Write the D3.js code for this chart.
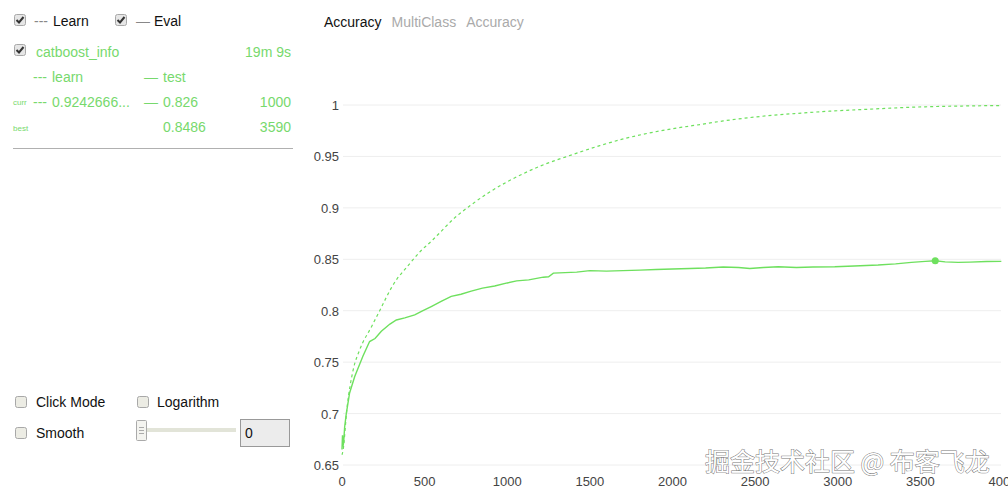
<!DOCTYPE html>
<html><head><meta charset="utf-8">
<script src="https://cdn.jsdelivr.net/npm/d3@7/dist/d3.min.js"></script>
<style>
html,body{margin:0;padding:0;background:#fff;overflow:hidden;}
svg{display:block;font-family:"Liberation Sans",Arial,sans-serif;}
</style></head>
<body>
<svg id="c" width="1008" height="492"></svg>
<script>
// ---- data ----
const xTicks = [0, 500, 1000, 1500, 2000, 2500, 3000, 3500, 4000];
const yTicks = [0.65, 0.7, 0.75, 0.8, 0.85, 0.9, 0.95, 1];
const yTickLabels = ["0.65", "0.7", "0.75", "0.8", "0.85", "0.9", "0.95", "1"];

const learnIter = [0, 6, 30, 67, 107, 177, 228, 298, 333, 369, 411, 470, 550, 593, 680, 774, 880, 996, 1100, 1198, 1399, 1560, 1702, 1850, 2004, 2166, 2307, 2509, 2750, 2952, 3200, 3478, 3750, 3990];
const learnVals = [0.660, 0.664, 0.705, 0.742, 0.762, 0.784, 0.800, 0.822, 0.831, 0.838, 0.846, 0.857, 0.869, 0.876, 0.890, 0.902, 0.914, 0.925, 0.9335, 0.9405, 0.952, 0.9605, 0.967, 0.9725, 0.977, 0.981, 0.9845, 0.9885, 0.9918, 0.994, 0.996, 0.998, 0.999, 0.9995];

const testIter = [0, 3, 6, 10, 16, 26, 46, 77, 127, 167, 200, 238, 290, 329, 380, 440, 490, 540, 600, 661, 720, 782, 850, 924, 1000, 1057, 1130, 1218, 1250, 1279, 1350, 1420, 1500, 1600, 1700, 1803, 1900, 2000, 2105, 2200, 2307, 2400, 2468, 2550, 2640, 2750, 2850, 2982, 3100, 3244, 3350, 3446, 3530, 3590, 3650, 3728, 3800, 3900, 3990];
const testVals = [0.665, 0.679, 0.668, 0.672, 0.687, 0.700, 0.720, 0.736, 0.756, 0.770, 0.773, 0.780, 0.787, 0.791, 0.793, 0.796, 0.800, 0.804, 0.809, 0.814, 0.816, 0.819, 0.822, 0.824, 0.827, 0.829, 0.830, 0.8326, 0.833, 0.8365, 0.837, 0.8375, 0.839, 0.8385, 0.839, 0.8395, 0.840, 0.8405, 0.841, 0.8415, 0.8425, 0.842, 0.841, 0.842, 0.8428, 0.842, 0.8425, 0.8428, 0.8435, 0.8444, 0.8455, 0.847, 0.848, 0.8486, 0.8475, 0.847, 0.8472, 0.8478, 0.848];

const bestIter = 3590, bestVal = 0.8486;

const headerWords = ["Accuracy", "MultiClass", "Accuracy"];
const runName = "catboost_info", runTime = "19m 9s";
const currLearn = "0.9242666...", currTest = "0.826", currIter = "1000";
const bestTest = "0.8486", bestIterLabel = "3590";
const watermark = "掘金技术社区 @ 布客飞龙";

// ---- drawing ----
const GREEN = "#6ee05e", TXT_GREEN = "#77d96d";
const svg = d3.select("#c");

const x = d3.scaleLinear().domain([0, 4000]).range([342, 1003]);
const y = d3.scaleLinear().domain([0.65, 1]).range([465, 105]);

// grid
svg.append("g").selectAll("line").data(yTicks).join("line")
  .attr("x1", 343).attr("x2", 1001)
  .attr("y1", d => y(d)).attr("y2", d => y(d))
  .attr("stroke", "#eeeeee").attr("stroke-width", 1);

// y tick labels
svg.append("g").selectAll("text").data(yTicks).join("text")
  .attr("x", 339).attr("y", d => y(d) + 5)
  .attr("text-anchor", "end").attr("font-size", 13).attr("fill", "#444")
  .text((d, i) => yTickLabels[i]);

// x tick labels
svg.append("g").selectAll("text").data(xTicks).join("text")
  .attr("x", d => x(d)).attr("y", 486)
  .attr("text-anchor", "middle").attr("font-size", 13).attr("fill", "#444")
  .text(d => d);

// lines
const learnData = learnIter.map((d, i) => [d, learnVals[i]]);
const testData = testIter.map((d, i) => [d, testVals[i]]);
const line = d3.line().x(d => x(d[0])).y(d => y(d[1])).curve(d3.curveMonotoneX);

svg.append("path").datum(learnData).attr("d", line)
  .attr("fill", "none").attr("stroke", GREEN).attr("stroke-width", 1.2)
  .attr("stroke-dasharray", "3,3");
svg.append("path").datum(testData).attr("d", d3.line().x(d => x(d[0])).y(d => y(d[1])))
  .attr("fill", "none").attr("stroke", GREEN).attr("stroke-width", 1.4);
svg.append("circle").attr("cx", x(bestIter)).attr("cy", y(bestVal)).attr("r", 3.5).attr("fill", GREEN);

// header
const hdr = svg.append("text").attr("x", 324).attr("y", 27).attr("font-size", 14);
hdr.append("tspan").attr("fill", "#111").text(headerWords[0]);
hdr.append("tspan").attr("fill", "#aaa").attr("dx", 10).text(headerWords[1]);
hdr.append("tspan").attr("fill", "#aaa").attr("dx", 10).text(headerWords[2]);

// checkbox helper
function checkbox(cx, cy, checked) {
  const g = svg.append("g").attr("transform", `translate(${cx},${cy})`);
  g.append("rect").attr("x", 0.5).attr("y", 0.5).attr("width", 11).attr("height", 11).attr("rx", 2)
    .attr("fill", checked ? "#e6e6e6" : "#ececE4").attr("stroke", "#a8a8a8");
  if (checked) g.append("path").attr("d", "M2.5,6 L5,8.5 L9.5,3").attr("fill", "none")
    .attr("stroke", "#333").attr("stroke-width", 2);
}

function txt(xp, yp, s, opts = {}) {
  return svg.append("text").attr("x", xp).attr("y", yp).attr("font-size", opts.size || 14)
    .attr("fill", opts.fill || "#111").attr("text-anchor", opts.anchor || "start").text(s);
}

// top legend
checkbox(14, 14, true);
txt(34, 26, "---", { fill: "#888" });
txt(53, 26, "Learn");
checkbox(115, 14, true);
txt(136, 26, "—", { fill: "#888" });
txt(154, 26, "Eval");

checkbox(14, 44, true);
txt(36, 57, runName, { fill: TXT_GREEN });
txt(291, 57, runTime, { fill: TXT_GREEN, anchor: "end" });
txt(33, 82, "---", { fill: TXT_GREEN });
txt(52, 82, "learn", { fill: TXT_GREEN });
txt(144, 82, "—", { fill: TXT_GREEN });
txt(163, 82, "test", { fill: TXT_GREEN });
txt(13, 105, "curr", { fill: TXT_GREEN, size: 8 });
txt(33, 107, "---", { fill: TXT_GREEN });
txt(52, 107, currLearn, { fill: TXT_GREEN });
txt(144, 107, "—", { fill: TXT_GREEN });
txt(163, 107, currTest, { fill: TXT_GREEN });
txt(291, 107, currIter, { fill: TXT_GREEN, anchor: "end" });
txt(13, 131, "best", { fill: TXT_GREEN, size: 8 });
txt(163, 132, bestTest, { fill: TXT_GREEN });
txt(291, 132, bestIterLabel, { fill: TXT_GREEN, anchor: "end" });
svg.append("line").attr("x1", 13).attr("x2", 293).attr("y1", 148.5).attr("y2", 148.5).attr("stroke", "#b0b0b0");

// bottom controls
checkbox(15, 396, false);
txt(36, 407, "Click Mode");
checkbox(137, 396, false);
txt(157, 407, "Logarithm");
checkbox(15, 427, false);
txt(36, 438, "Smooth");
svg.append("rect").attr("x", 146).attr("y", 428).attr("width", 90).attr("height", 4).attr("fill", "#e2e4d8");
svg.append("rect").attr("x", 136.5).attr("y", 420.5).attr("width", 10).attr("height", 20).attr("rx", 1)
  .attr("fill", "#f4f4f0").attr("stroke", "#aaa");
svg.append("g").selectAll("line").data([427, 430, 433]).join("line")
  .attr("x1", 139).attr("x2", 144).attr("y1", d => d + 0.5).attr("y2", d => d + 0.5).attr("stroke", "#aaa");
svg.append("rect").attr("x", 240.5).attr("y", 419.5).attr("width", 49).attr("height", 27)
  .attr("fill", "#ececec").attr("stroke", "#999");
txt(245, 438, "0");

// watermark
svg.append("text").attr("x", 705).attr("y", 471).attr("font-size", 25)
  .attr("font-family", "'Noto Sans CJK SC', sans-serif")
  .attr("fill", "#fff").attr("stroke", "#777").attr("stroke-width", 1).attr("paint-order", "stroke")
  .text(watermark);
</script>
</body></html>
